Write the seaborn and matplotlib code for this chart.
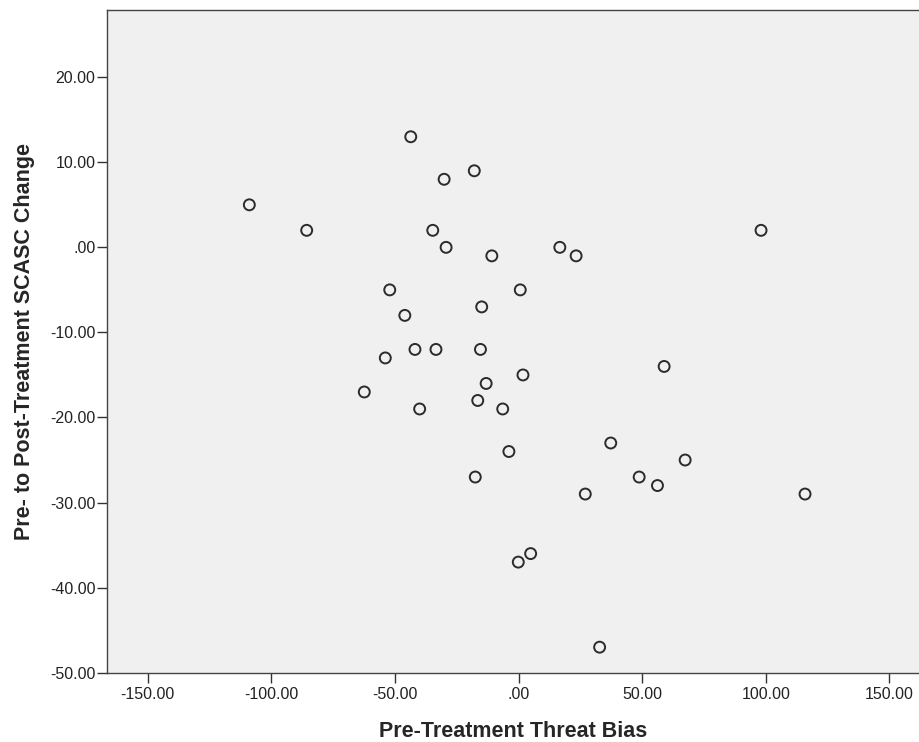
import matplotlib
matplotlib.use("Agg")
import matplotlib.pyplot as plt
from matplotlib.ticker import FuncFormatter
import seaborn as sns
import pandas as pd

threat_bias = [-108.9, -85.7, -62.4, -53.9, -52.1, -46.0, -43.6, -41.9, -40.0, -34.7,
               -33.4, -30.1, -29.3, -17.9, -17.5, -16.5, -15.4, -14.9, -13.1, -10.8,
               -6.4, -3.9, -0.1, 0.7, 1.8, 4.9, 16.7, 23.3, 27.0, 32.8,
               37.3, 48.8, 56.2, 58.9, 67.4, 98.1, 115.9]
scasc_change = [5, 2, -17, -13, -5, -8, 13, -12, -19, 2,
                -12, 8, 0, 9, -27, -18, -12, -7, -16, -1,
                -19, -24, -37, -5, -15, -36, 0, -1, -29, -47,
                -23, -27, -28, -14, -25, 2, -29]
x_ticks = [-150, -100, -50, 0, 50, 100, 150]
y_ticks = [20, 10, 0, -10, -20, -30, -40, -50]

df = pd.DataFrame({"x": threat_bias, "y": scasc_change})

sns.set_style("white")
plt.rcParams['font.family'] = ['Liberation Sans', 'DejaVu Sans']

fig = plt.figure(figsize=(9.19, 7.42), dpi=100)
ax = fig.add_axes([106.7 / 919, (742 - 672.7) / 742, (919 - 106.7) / 919, (672.7 - 10) / 742])
ax.set_facecolor("#F0F0F0")

sns.scatterplot(data=df, x="x", y="y", ax=ax, marker="o", s=62,
                facecolor="none", edgecolor="#2b2b2b", linewidth=1.4, zorder=3)

ax.set_xlim(-166.6, 162.0)
ax.set_ylim(-50, 27.9)
ax.set_xticks(x_ticks)
ax.set_yticks(y_ticks)

def fmt(v, pos):
    s = f"{v:.2f}"
    if s in ("0.00", "-0.00"):
        return ".00"
    return s

ax.xaxis.set_major_formatter(FuncFormatter(fmt))
ax.yaxis.set_major_formatter(FuncFormatter(fmt))
ax.tick_params(axis="both", which="major", direction="out", length=7.2, width=1.0,
               color="#333333", labelsize=11.5, labelcolor="#222222", pad=1.0,
               bottom=True, left=True, top=False, right=False)
ax.tick_params(axis="x", pad=3.0)

for side in ["left", "bottom", "top"]:
    ax.spines[side].set_visible(True)
    ax.spines[side].set_color("#444444")
    ax.spines[side].set_linewidth(1.0)
ax.spines["right"].set_visible(False)

ax.set_xlabel("Pre-Treatment Threat Bias", fontsize=15.5, fontweight="bold", labelpad=14)
ax.set_ylabel("Pre- to Post-Treatment SCASC Change", fontsize=15.5, fontweight="bold", labelpad=11)

fig.savefig("out.png", dpi=100)
